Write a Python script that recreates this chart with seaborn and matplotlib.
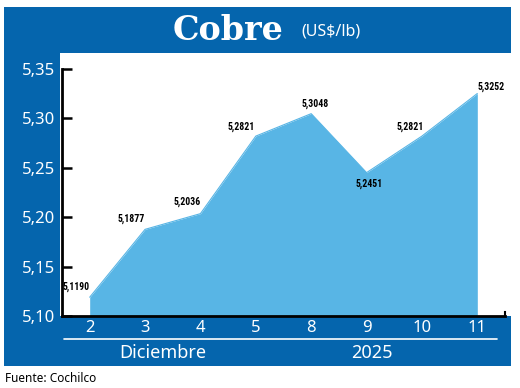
import matplotlib
matplotlib.use("Agg")
import matplotlib.pyplot as plt
import seaborn as sns
import pandas as pd
from matplotlib.patches import Rectangle
from matplotlib.lines import Line2D
from matplotlib import font_manager

# datos del grafico
dias = ["2", "3", "4", "5", "8", "9", "10", "11"]
precios = [5.1190, 5.1877, 5.2036, 5.2821, 5.3048, 5.2451, 5.2821, 5.3252]
etiquetas = ["5,1190", "5,1877", "5,2036", "5,2821", "5,3048", "5,2451", "5,2821", "5,3252"]
y_ticks = [5.10, 5.15, 5.20, 5.25, 5.30, 5.35]
y_labels = ["5,10", "5,15", "5,20", "5,25", "5,30", "5,35"]

AZUL = "#0565ad"
CELESTE = "#58b5e5"

sns.set_theme(style="white")
plt.rcParams["font.family"] = ["Noto Sans", "DejaVu Sans"]

# fuente angosta para las etiquetas, si existe
nombres = {f.name for f in font_manager.fontManager.ttflist}
angosta = next((n for n in ["Roboto Condensed", "Liberation Sans Narrow",
                            "Open Sans Condensed", "Liberation Sans"] if n in nombres),
               "DejaVu Sans")

df = pd.DataFrame({"idx": range(len(dias)), "precio": precios})

fig = plt.figure(figsize=(5.2, 3.88), dpi=100)
fig.patch.set_facecolor("white")

# panel azul y zona blanca
fig.patches.append(Rectangle((4 / 520, 22 / 388), 507 / 520, 359 / 388,
                             transform=fig.transFigure, facecolor=AZUL,
                             edgecolor="none", zorder=-5))
fig.patches.append(Rectangle((60 / 520, 72 / 388), 451 / 520, 263 / 388,
                             transform=fig.transFigure, facecolor="white",
                             edgecolor="none", zorder=-4))

ax = fig.add_axes([62 / 520, 72 / 388, 443 / 520, 263 / 388])
ax.set_zorder(2)
ax.patch.set_alpha(0)

sns.lineplot(data=df, x="idx", y="precio", color=CELESTE, linewidth=0.8, ax=ax)
ax.fill_between(df["idx"], df["precio"], 5.10, color=CELESTE, linewidth=0)

ax.set_xlim(-0.5, 7.5)
ax.set_ylim(5.10, 5.10 + 263 / 988)
ax.set_xlabel("")
ax.set_ylabel("")

ax.set_yticks(y_ticks)
ax.set_yticklabels(y_labels)
ax.set_xticks(range(len(dias)))
ax.set_xticklabels(dias)
ax.tick_params(axis="y", direction="in", length=7, width=1.8, color="black",
               labelcolor="white", labelsize=12, pad=5, left=True)
ax.tick_params(axis="x", length=0, labelcolor="white", labelsize=12, pad=3)

ax.spines["top"].set_visible(False)
ax.spines["left"].set_color("black")
ax.spines["left"].set_linewidth(2)
ax.spines["left"].set_bounds(5.10, 5.35)
ax.spines["bottom"].set_color("black")
ax.spines["bottom"].set_linewidth(2)
ax.spines["right"].set_color("black")
ax.spines["right"].set_linewidth(1.5)
ax.spines["right"].set_bounds(5.10, 5.104)

# etiquetas de datos
offsets = [(0, 4, "right", "bottom"), (0, 4, "right", "bottom"),
           (0, 5, "right", "bottom"), (-1, 3, "right", "bottom"),
           (3, 3, "center", "bottom"), (2, -4, "center", "top"),
           (1, 3, "right", "bottom"), (0, 1, "left", "bottom")]
for i, (v, t) in enumerate(zip(precios, etiquetas)):
    dx, dy, ha, va = offsets[i]
    ax.annotate(t, (i, v), xytext=(dx, dy), textcoords="offset points",
                ha=ha, va=va, fontsize=7, fontweight="bold", color="black",
                family=[angosta, "DejaVu Sans"])

# titulo
fig.text(228 / 520, 1 - 30 / 388, "Cobre", ha="center", va="center",
         fontsize=24, fontweight="bold", color="white",
         family=["DejaVu Serif"])
fig.text(331 / 520, 1 - 32 / 388, "(US$/lb)", ha="center", va="center",
         fontsize=11.5, color="white")

# linea y rotulos del eje x
fig.add_artist(Line2D([64 / 520, 497 / 520], [1 - 339 / 388, 1 - 339 / 388],
                      transform=fig.transFigure, color="white", linewidth=1.2))
fig.text(163 / 520, 1 - 353 / 388, "Diciembre", ha="center", va="center",
         fontsize=13, color="white")
fig.text(372 / 520, 1 - 353 / 388, "2025", ha="center", va="center",
         fontsize=13, color="white")

fig.text(5 / 520, 1 - 378 / 388, "Fuente: Cochilco", ha="left", va="center",
         fontsize=8.5, color="black")

fig.savefig("out.png", dpi=100)
